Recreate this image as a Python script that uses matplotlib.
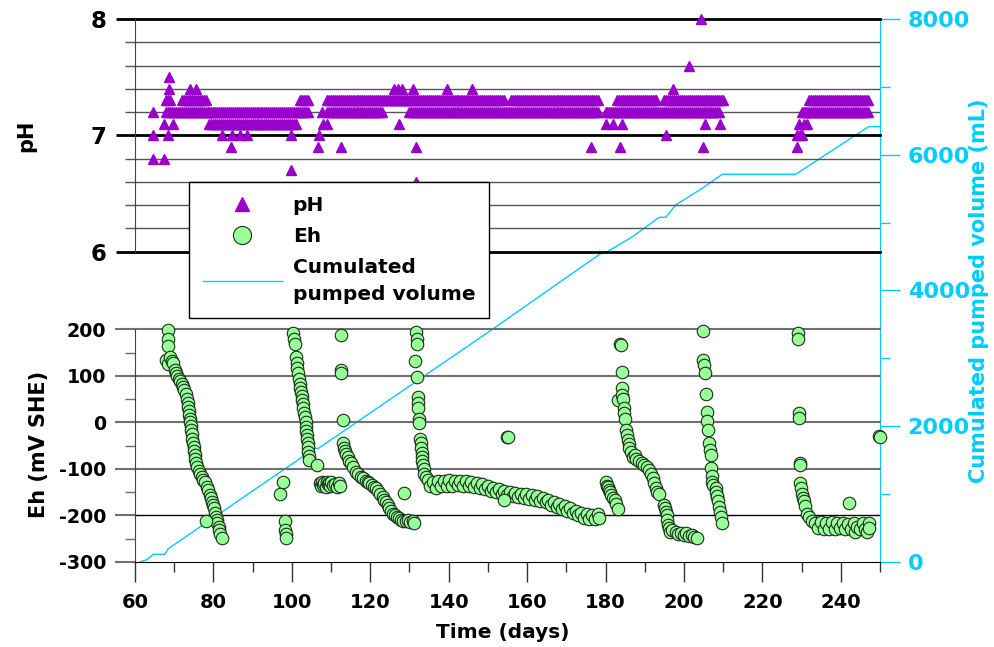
import matplotlib.pyplot as plt
from matplotlib.ticker import MultipleLocator
from matplotlib.lines import Line2D

plt.rcParams['font.family'] = ['DejaVu Sans']
plt.rcParams['font.weight'] = 'bold'
plt.rcParams['axes.unicode_minus'] = False

# ---- pH readings: days on which each pH value was recorded ----
ph_80 = [204.4]
ph_76 = [201.2]
ph_75 = [68.6]
ph_74 = [68.6, 74.1, 75.6, 126, 127, 128, 130.9, 139.6, 145.9, 197.1]
ph_73 = [68, 69, 72, 73, 74, 75, 76, 77, 78, 102, 103, 104,
         109, 110, 111, 112, 113, 114, 115, 116, 117, 118, 119, 120, 121, 122,
         123, 124, 125, 126, 127, 128, 129, 130, 131, 132, 133, 134, 135, 136,
         137, 138, 139, 140, 141, 142, 143, 144, 145, 146, 147, 148, 149, 150,
         151, 152, 153, 154, 156, 157, 158, 159, 160, 161, 162, 163, 164, 165,
         166, 167, 168, 169, 170, 171, 172, 173, 174, 175, 176, 177, 178,
         183, 184, 185, 186, 187, 188, 189, 190, 191, 192, 193, 195, 196, 197,
         198, 199, 200, 201, 202, 203, 204, 205, 206, 207, 208, 209, 210,
         232, 233, 234, 235, 236, 237, 238, 239, 240, 241, 242, 243, 244, 245,
         246, 247]
ph_73_half = [68.5, 72.5, 73.5, 74.5, 75.5, 76.5, 77.5, 102.5, 103.5,
              109.5, 110.5, 111.5, 112.5, 113.5, 114.5, 115.5, 116.5, 117.5,
              118.5, 119.5, 120.5, 121.5, 122.5, 123.5, 124.5, 125.5, 126.5,
              127.5, 128.5, 129.5, 130.5, 131.5, 132.5, 133.5, 134.5, 135.5,
              136.5, 137.5, 138.5, 139.5, 140.5, 141.5, 142.5, 143.5, 144.5,
              145.5, 146.5, 147.5, 148.5, 149.5, 150.5, 151.5, 152.5, 153.5,
              156.5, 157.5, 158.5, 159.5, 160.5, 161.5, 162.5, 163.5, 164.5,
              165.5, 166.5, 167.5, 168.5, 169.5, 170.5, 171.5, 172.5, 173.5,
              174.5, 175.5, 176.5, 177.5,
              183.5, 184.5, 185.5, 186.5, 187.5, 188.5, 189.5, 190.5, 191.5,
              192.5, 195.5, 196.5, 197.5, 198.5, 199.5, 200.5, 201.5, 202.5,
              203.5, 204.5, 205.5, 206.5, 207.5, 208.5, 209.5,
              232.5, 233.5, 234.5, 235.5, 236.5, 237.5, 238.5, 239.5, 240.5,
              241.5, 242.5, 243.5, 244.5, 245.5, 246.5]
ph_72 = [64.6, 68, 69, 70, 71, 72, 73, 74, 75, 76, 77, 78, 79, 80, 81, 82, 83,
         84, 85, 86, 87, 88, 89, 90, 91, 92, 93, 94, 95, 96, 97, 98, 99, 100,
         101, 102, 103, 104,
         107.6, 109, 110, 111, 112, 113, 114, 115, 116, 117, 118, 119, 120, 121,
         122, 123,
         130, 131, 132, 133, 134, 135, 136, 137, 138, 139, 140, 141, 142, 143,
         144, 145, 146, 147, 148, 149, 150, 151, 152, 153, 154, 155, 156, 157,
         158, 159, 160, 161, 162, 163, 164, 165, 166, 167, 168, 169, 170, 171,
         172, 173, 174, 175, 176, 177, 178, 180, 181, 182, 183, 184, 185, 186,
         187, 188, 189, 190, 191, 192, 193, 194, 195, 196, 197, 198, 199, 200,
         201, 202, 203, 204, 205, 206, 207, 208, 209,
         230, 231, 232, 233, 234, 235, 236, 237, 238, 239, 240, 241, 242, 243,
         244, 245, 246, 247]
ph_72_half = [68.5, 69.5, 70.5, 71.5, 72.5, 73.5, 74.5, 75.5, 76.5, 77.5,
              78.5, 79.5, 80.5, 81.5, 82.5, 83.5, 84.5, 85.5, 86.5, 87.5,
              88.5, 89.5, 90.5, 91.5, 92.5, 93.5, 94.5, 95.5, 96.5, 97.5,
              98.5, 99.5, 100.5, 101.5, 102.5, 103.5,
              109.5, 110.5, 111.5, 112.5, 113.5, 114.5, 115.5, 116.5, 117.5,
              118.5, 119.5, 120.5, 121.5, 122.5,
              130.5, 131.5, 132.5, 133.5, 134.5, 135.5, 136.5, 137.5, 138.5,
              139.5, 140.5, 141.5, 142.5, 143.5, 144.5, 145.5, 146.5, 147.5,
              148.5, 149.5, 150.5, 151.5, 152.5, 153.5, 154.5, 155.5, 156.5,
              157.5, 158.5, 159.5, 160.5, 161.5, 162.5, 163.5, 164.5, 165.5,
              166.5, 167.5, 168.5, 169.5, 170.5, 171.5, 172.5, 173.5, 174.5,
              175.5, 176.5, 177.5, 180.5, 181.5, 182.5, 183.5, 184.5, 185.5,
              186.5, 187.5, 188.5, 189.5, 190.5, 191.5, 192.5, 193.5, 194.5,
              195.5, 196.5, 197.5, 198.5, 199.5, 200.5, 201.5, 202.5, 203.5,
              204.5, 205.5, 206.5, 207.5, 208.5,
              230.5, 231.5, 232.5, 233.5, 234.5, 235.5, 236.5, 237.5, 238.5,
              239.5, 240.5, 241.5, 242.5, 243.5, 244.5, 245.5, 246.5]
ph_71 = [67.3, 69.7, 79, 79.5, 80, 80.5, 81, 81.5, 82, 82.5, 83, 83.5, 84,
         84.5, 85, 85.5, 86, 86.5, 87, 87.5, 88, 88.5, 89, 89.5, 90, 90.5, 91,
         91.5, 92, 92.5, 93, 93.5, 94, 94.5, 95, 95.5, 96, 96.5, 97, 97.5, 98,
         98.5, 99, 99.5, 100, 100.5, 101, 108, 109, 127.3, 180.2, 181.9,
         184.2, 205.3, 209.2, 229.4, 230.5, 231.5]
ph_70 = [64.6, 68.3, 82.2, 84.7, 86.7, 88.5, 99.7, 107.0, 195.4, 228.8, 229.6,
         230.2]
ph_69 = [84.5, 106.6, 112.6, 131.6, 176.3, 183.7, 204.9, 228.8]
ph_68 = [64.6, 67.5]
ph_67 = [99.7]
ph_66 = [131.6]

ph_levels = [8.0, 7.6, 7.5, 7.4, 7.3, 7.3, 7.2, 7.2, 7.1, 7.0, 6.9, 6.8, 6.7, 6.6]
ph_groups = [ph_80, ph_76, ph_75, ph_74, ph_73, ph_73_half, ph_72, ph_72_half,
             ph_71, ph_70, ph_69, ph_68, ph_67, ph_66]

# ---- Eh readings (day, mV SHE) ----
eh_day = [
    68.3, 68.3, 68.3, 68.0, 68.3, 69.0, 69.4, 69.7, 70.2, 70.5,
    70.8, 71.1, 71.5, 71.9, 72.2, 72.5, 72.9, 73.2, 73.4, 73.5,
    73.7, 73.8, 74.0, 74.1, 74.3, 74.4, 74.5, 74.6, 74.8, 75.0,
    75.1, 75.2, 75.4, 75.6, 75.9, 76.2, 76.6, 77.0, 77.3, 77.8,
    78.3, 78.7, 79.1, 79.4, 79.6, 79.9, 80.2, 80.4, 80.6, 80.8,
    81.0, 81.3, 81.5, 81.8, 82.1, 78.1,
    97.1, 97.8, 98.2, 98.3, 98.4, 98.6,
    100.3, 100.6, 100.8, 101.0, 101.2, 101.4, 101.6, 101.8, 102.0, 102.2,
    102.4, 102.6, 102.7, 102.8, 102.9, 103.1, 103.3, 103.5, 103.6, 103.7,
    103.8, 103.9, 104.0, 104.1, 104.2, 104.3, 104.4, 106.5,
    107.1, 107.4, 107.7, 108.0, 108.3, 108.6, 108.9, 109.2, 109.5, 109.8,
    110.1, 110.5, 111.0, 111.5, 112.0, 112.3,
    112.6, 112.6, 112.6, 113.0, 113.0, 113.3, 113.6, 113.9, 114.3, 114.7,
    115.2, 115.7, 116.4, 117.0, 117.6, 118.1, 118.8, 119.4, 119.8, 120.4,
    121.0, 121.5, 122.0, 122.6, 123.2, 123.6, 124.0, 124.4, 124.8, 125.3,
    125.8, 126.3, 126.8, 127.3, 127.8, 128.4, 129.0, 129.6, 130.2, 130.8,
    131.2, 128.6,
    131.7, 131.9, 131.9, 131.3, 132.0, 132.2, 132.2, 132.2, 132.4, 132.4,
    132.8, 132.9, 133.0, 133.1, 133.2, 133.3, 133.4, 133.6, 133.8, 134.2,
    134.7, 135.3, 136.0, 136.7, 137.4, 138.1, 138.8, 139.5, 140.2, 140.9,
    141.6, 142.3, 143.0, 143.7, 144.4, 145.1, 145.8, 146.5, 147.2, 147.9,
    148.6, 149.3, 150.0, 150.7, 151.4, 152.1, 152.8, 153.5, 154.2, 154.9,
    155.6, 156.3, 157.0, 157.7, 158.4, 159.1, 159.8, 160.5, 161.2, 161.9,
    162.6, 163.3, 164.0, 164.7, 165.4, 166.1, 166.8, 167.5, 168.2, 168.9,
    169.6, 170.3, 171.0, 171.7, 172.4, 173.1, 173.8, 174.5, 175.2, 175.9,
    176.6, 177.3, 178.0, 178.3, 154.1, 155.0, 155.1,
    180.2, 180.4, 180.6, 180.9, 181.2, 181.5, 181.9, 182.3, 182.7, 183.1,
    183.8, 183.9, 184.1, 184.1, 183.1, 184.2, 184.4, 184.6, 184.8, 185.0,
    185.2, 185.4, 185.7, 185.9, 186.1, 186.5, 186.9, 187.4, 187.9, 188.5,
    189.2, 189.9, 190.5, 191.0, 191.6, 192.0, 192.4, 192.8, 193.2, 193.6,
    195.0, 195.2, 195.4, 195.6, 195.8, 196.0, 196.2, 196.5, 197.0, 197.9,
    198.5, 199.2, 200.0, 200.5, 201.2, 202.0, 202.6, 203.4,
    204.9, 204.9, 205.1, 205.3, 205.6, 205.8, 206.0, 206.2, 206.4, 206.6,
    206.8, 207.0, 207.2, 207.2, 207.5, 208.1, 208.3, 208.5, 208.5, 208.7,
    208.9, 209.2, 209.4, 209.6,
    229.0, 229.0, 229.3, 229.3, 229.5, 229.5, 229.7, 229.9, 230.1, 230.3,
    230.6, 230.9, 231.4, 232.0, 232.7, 233.5, 234.2, 234.9, 235.6, 236.3,
    237.0, 237.7, 238.4, 239.1, 239.8, 240.5, 241.2, 241.9, 242.6, 243.3,
    243.7, 244.2, 245.0, 245.7, 246.3, 246.6, 247.1, 247.3, 242.2, 249.8,
    249.9]
eh_mv = [
    199, 180, 163, 135, 125, 140, 132, 128, 112, 105,
    100, 94, 88, 83, 76, 69, 60, 51, 42, 33,
    24, 15, 8, 1, -8, -17, -26, -35, -44, -52,
    -61, -70, -79, -88, -97, -104, -110, -117, -124, -128,
    -138, -145, -156, -163, -171, -178, -185, -195, -203, -210,
    -217, -224, -231, -240, -249, -213,
    -153, -128, -213, -231, -240, -249,
    192, 180, 169, 141, 128, 117, 105, 94, 83, 74,
    66, 57, 48, 39, 30, 21, 12, 1, -10, -19,
    -27, -36, -45, -54, -63, -72, -81, -92,
    -130, -136, -128, -134, -130, -138, -128, -133, -131, -137,
    -129, -134, -132, -138, -130, -137,
    187, 112, 105, 5, -45, -55, -62, -67, -75, -82,
    -88, -95, -106, -112, -117, -120, -125, -128, -131, -135,
    -138, -142, -148, -153, -160, -167, -172, -178, -184, -190,
    -196, -200, -203, -206, -209, -211, -213, -210, -214, -213,
    -216, -151,
    194, 180, 169, 131, 98, 55, 42, 31, 8, -2,
    -35, -45, -56, -65, -74, -83, -92, -100, -110, -118,
    -124, -136, -128, -140, -126, -137, -125, -136, -124, -137,
    -126, -135, -125, -137, -127, -136, -129, -138, -131, -141,
    -133, -143, -136, -147, -140, -150, -143, -154, -147, -156,
    -150, -159, -152, -161, -153, -163, -155, -164, -156, -166,
    -159, -169, -162, -172, -166, -177, -171, -182, -175, -186,
    -180, -190, -185, -195, -190, -200, -195, -205, -197, -207,
    -199, -208, -197, -205, -167, -31, -31,
    -128, -136, -138, -146, -150, -156, -162, -167, -176, -186,
    169, 166, 108, 73, 48, 58, 51, 30, 20, 8,
    -17, -27, -38, -47, -56, -64, -74, -70, -78, -84,
    -88, -92, -97, -103, -110, -120, -131, -140, -149, -155,
    -178, -185, -192, -200, -210, -220, -228, -236, -232, -235,
    -240, -238, -242, -238, -245, -242, -246, -249,
    196, 135, 123, 105, 61, 23, 3, -17, -45, -60,
    -70, -99, -115, -128, -135, -142, -150, -160, -158, -170,
    -181, -192, -203, -217,
    191, 178, 20, 10, -87, -92, -131, -142, -153, -162,
    -170, -180, -196, -203, -212, -216, -226, -214, -230, -216,
    -229, -215, -230, -217, -228, -216, -230, -218, -229, -216,
    -235, -224, -229, -217, -230, -235, -217, -226, -174, -30,
    -31]

# ---- cumulated pumped volume (mL) ----
vol_days = [61.3, 63.0, 64.7, 67.6, 68.5, 105.9, 106.8, 124.2, 150.9, 178.6,
            180.5, 186.9, 193.7, 195.4, 197.9, 204.7, 209.8, 228.5, 247.1, 249.8]
vol_ml = [0, 34, 113, 113, 196, 1675, 1675, 2362, 3418, 4537,
          4572, 4793, 5078, 5078, 5260, 5506, 5712, 5712, 6413, 6413]

PURPLE = '#9900CC'
GREEN = '#99FF99'
CYAN = '#00CCFF'

fig = plt.figure(figsize=(9.94, 6.47), dpi=100)
ax_vol = fig.add_axes([0.1358, 0.1314, 0.7495, 0.8393])
ax_ph = fig.add_axes([0.1358, 0.6110, 0.7495, 0.3597])
ax_eh = fig.add_axes([0.1358, 0.1314, 0.7495, 0.3597])

# volume axis (right, full height)
ax_vol.plot(vol_days, vol_ml, color=CYAN, lw=1)
ax_vol.set_xlim(60, 250)
ax_vol.set_ylim(0, 8000)
ax_vol.yaxis.tick_right()
ax_vol.yaxis.set_label_position('right')
for s in ['left', 'top', 'bottom']:
    ax_vol.spines[s].set_visible(False)
ax_vol.spines['right'].set_color(CYAN)
ax_vol.set_xticks([])
ax_vol.yaxis.set_major_locator(MultipleLocator(2000))
ax_vol.yaxis.set_minor_locator(MultipleLocator(1000))
ax_vol.tick_params(axis='y', which='major', direction='out', length=14.4, width=1,
                   color=CYAN, labelcolor=CYAN, labelsize=16, pad=5.5)
ax_vol.tick_params(axis='y', which='minor', direction='out', length=7.2, width=1, color=CYAN)
ax_vol.set_ylabel('Cumulated pumped volume (mL)', color=CYAN, fontsize=15, fontweight='bold')
ax_vol.yaxis.label.set_va('center')
ax_vol.yaxis.set_label_coords(1.133, 0.5)

# pH panel
ax_ph.patch.set_alpha(0)
ax_ph.set_xlim(60, 250)
ax_ph.set_ylim(6, 8)
ax_ph.yaxis.set_major_locator(MultipleLocator(1))
ax_ph.yaxis.set_minor_locator(MultipleLocator(0.2))
for lv in ax_ph.get_yticks(minor=True):
    ax_ph.axhline(lv, color='#555555', lw=1, zorder=1)
for lv in [6, 7, 8]:
    ax_ph.axhline(lv, color='black', lw=2, zorder=1.1, clip_on=False)
for lv, days in zip(ph_levels, ph_groups):
    ax_ph.plot(days, [lv] * len(days), ls='none', marker='^', ms=7.3,
               color=PURPLE, clip_on=False, zorder=3)
for s in ['top', 'right', 'bottom']:
    ax_ph.spines[s].set_visible(False)
ax_ph.spines['left'].set_color('#444444')
ax_ph.tick_params(axis='x', which='both', bottom=False, labelbottom=False)
ax_ph.tick_params(axis='y', which='major', direction='out', length=13.7, width=2,
                  color='black', labelsize=16.5, pad=6.5)
ax_ph.tick_params(axis='y', which='minor', direction='out', length=7.2, width=1,
                  color='#555555')
ax_ph.set_ylabel('pH', fontsize=15, fontweight='bold')
ax_ph.yaxis.label.set_va('center')
ax_ph.yaxis.set_label_coords(-0.146, 0.5)

# Eh panel
ax_eh.patch.set_alpha(0)
ax_eh.set_xlim(60, 250)
ax_eh.set_ylim(-300, 200)
ax_eh.yaxis.set_major_locator(MultipleLocator(100))
ax_eh.yaxis.set_minor_locator(MultipleLocator(50))
ax_eh.xaxis.set_major_locator(MultipleLocator(20))
ax_eh.xaxis.set_minor_locator(MultipleLocator(10))
for lv in [200, 100, 0, -100]:
    ax_eh.axhline(lv, color='#707070', lw=1.5, zorder=1, clip_on=False)
ax_eh.axhline(-200, color='black', lw=1, zorder=1)
ax_eh.plot(eh_day, eh_mv, ls='none', marker='o', ms=9, mfc=GREEN,
           mec='#1a2e1a', mew=0.8, clip_on=False, zorder=3)
for s in ['top', 'right']:
    ax_eh.spines[s].set_visible(False)
ax_eh.spines['left'].set_color('#444444')
ax_eh.tick_params(axis='y', which='major', direction='out', length=14.4, width=1.5,
                  color='#707070', labelsize=13.7, pad=6.5)
ax_eh.tick_params(axis='y', which='minor', direction='out', length=7.2, width=1,
                  color='#707070')
ax_eh.tick_params(axis='x', which='major', direction='out', length=14.4, width=1,
                  color='#333333', labelsize=14, pad=8)
ax_eh.tick_params(axis='x', which='minor', direction='out', length=7.2, width=1,
                  color='#333333')
ax_eh.set_ylabel('Eh (mV SHE)', fontsize=15, fontweight='bold')
ax_eh.yaxis.label.set_va('center')
ax_eh.yaxis.set_label_coords(-0.129, 0.505)
ax_eh.set_xlabel('Time (days)', fontsize=14.5, fontweight='bold')
ax_eh.xaxis.label.set_va('center')
ax_eh.xaxis.set_label_coords(0.493, -0.305)

# legend
handles = [Line2D([], [], ls='none', marker='^', ms=7.3, color=PURPLE),
           Line2D([], [], ls='none', marker='o', ms=9, mfc=GREEN, mec='#1a2e1a', mew=0.8),
           Line2D([], [], color=CYAN, lw=1)]
leg = ax_ph.legend(handles, ['pH', 'Eh', 'Cumulated\npumped volume'],
                   loc='upper left', bbox_to_anchor=(189 / 994, 1 - 182 / 647),
                   bbox_transform=fig.transFigure, borderaxespad=0,
                   fancybox=False, edgecolor='black', framealpha=1,
                   fontsize=14.5, markerscale=1.45, handlelength=3.9,
                   handletextpad=0.55, borderpad=0.7, labelspacing=0.6)
leg.get_frame().set_linewidth(1)
leg.set_zorder(10)
for t in leg.get_texts():
    t.set_fontweight('bold')
    t.set_linespacing(1.5)

plt.savefig('out.png', dpi=100)
